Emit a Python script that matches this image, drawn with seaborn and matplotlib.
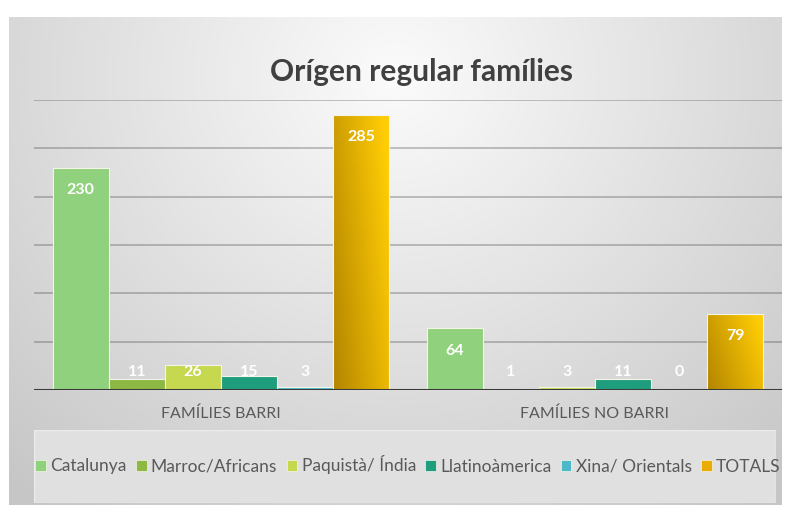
import numpy as np
import pandas as pd
import matplotlib
matplotlib.use("Agg")
import matplotlib.pyplot as plt
import seaborn as sns
from matplotlib.patches import Rectangle, Patch

# ---- data ----
groups = ["FAMÍLIES BARRI", "FAMÍLIES NO BARRI"]
series = ["Catalunya", "Marroc/Africans", "Paquistà/ Índia", "Llatinoàmerica", "Xina/ Orientals", "TOTALS"]
vals_barri = [230, 11, 26, 15, 3, 285]
vals_no_barri = [64, 1, 3, 11, 0, 79]
colors = ["#8FD17C", "#8DB844", "#C6D84F", "#1F9E7D", "#4DB9C8", "#E8AD00"]
title = "Orígen regular famílies"

rows = []
for g, vals in zip(groups, [vals_barri, vals_no_barri]):
    for s, v in zip(series, vals):
        rows.append({"grup": g, "origen": s, "valor": v})
df = pd.DataFrame(rows)

sns.set_theme(style="white")
plt.rcParams["font.family"] = ["Lato", "DejaVu Sans"]

W, H = 795, 512
fig = plt.figure(figsize=(W / 100, H / 100), dpi=100)
fig.patch.set_facecolor("white")

def fx(x): return x / W
def fy(y): return 1 - y / H

# chart-area background gradient
bg = fig.add_axes([fx(9), fy(505), fx(782) - fx(9), fy(17) - fy(505)], zorder=0)
yy, xx = np.mgrid[0:1:300j, 0:1:500j]
d = np.sqrt(((xx - 0.5) / 0.75) ** 2 + ((yy - 0.12) / 1.1) ** 2)
d = np.clip(d, 0, 1)
top = np.array([0.985, 0.985, 0.985])
edge = np.array([0.78, 0.78, 0.78])
img = top[None, None, :] * (1 - d[..., None]) + edge[None, None, :] * d[..., None]
bg.imshow(img, aspect="auto", extent=[0, 1, 1, 0])
bg.set_axis_off()

# legend box
lg = fig.add_axes([fx(34), fy(503), fx(776) - fx(34), fy(430) - fy(503)], zorder=1)
lg.set_xlim(0, 1); lg.set_ylim(0, 1)
lg.add_patch(Rectangle((0, 0), 1, 1, facecolor="#e0e0e0", edgecolor="#ececec", lw=1))
lg.set_axis_off()

# main plot
ax = fig.add_axes([fx(34), fy(390), fx(782) - fx(34), fy(100) - fy(390)], zorder=2)
ax.patch.set_alpha(0)
sns.barplot(data=df, x="grup", y="valor", hue="origen", hue_order=series,
            palette=colors, width=0.9, ax=ax, legend=False,
            edgecolor="#f4f4e8", linewidth=0.8, saturation=1)
ax.set_ylim(0, 300)
ax.set_xlim(-0.5, 1.5)
ax.set_yticks([])
for v in range(50, 301, 50):
    ax.axhline(v, color="#404040", alpha=0.3, lw=1.4, zorder=0)
ax.axhline(0, color="#3a3a3a", lw=2.2, zorder=5)
for s in ax.spines.values():
    s.set_visible(False)
ax.set_xlabel(""); ax.set_ylabel("")
ax.tick_params(axis="x", length=0, pad=12, labelsize=11.5, labelcolor="#595959")

# gradient for TOTALS bars + labels
gx, gy = np.meshgrid(np.linspace(0, 1, 60), np.linspace(0, 1, 200))
t = np.clip(0.75 * gx + 0.35 * gy, 0, 1)
c0 = np.array([0.70, 0.52, 0.0]); c1 = np.array([1.0, 0.80, 0.02])
gimg = c0[None, None, :] * (1 - t[..., None]) + c1[None, None, :] * t[..., None]

for container, s in zip(ax.containers, series):
    for bar in container:
        v = bar.get_height()
        x0 = bar.get_x(); w = bar.get_width()
        if s == "TOTALS":
            im = ax.imshow(gimg, extent=[x0, x0 + w, v, 0], aspect="auto", zorder=3)
            im.set_clip_path(bar)
            bar.set_zorder(3.5); bar.set_facecolor("none")
        ly = max(v - 23.5, 18.5)
        ax.text(x0 + w / 2, ly, f"{int(v)}", ha="center", va="center",
                color="white", fontsize=11.5, fontweight="bold", zorder=6)
ax.set_xlim(-0.5, 1.5)
ax.set_ylim(0, 300)

fig.text(fx(421), fy(72), title, ha="center", va="center", fontsize=21.5,
         fontweight="bold", color="#404040")

handles = [Patch(facecolor=c, edgecolor="#f4f4e8", lw=0.5) for c in colors]
leg = fig.legend(handles, series, loc="center", bbox_to_anchor=(fx(408), fy(465)),
                 ncol=6, frameon=False, fontsize=12.5, handlelength=0.6, handleheight=0.6,
                 handletextpad=0.25, columnspacing=0.55, labelcolor="#595959")
leg.set_zorder(10)

fig.savefig("out.png", dpi=100)
